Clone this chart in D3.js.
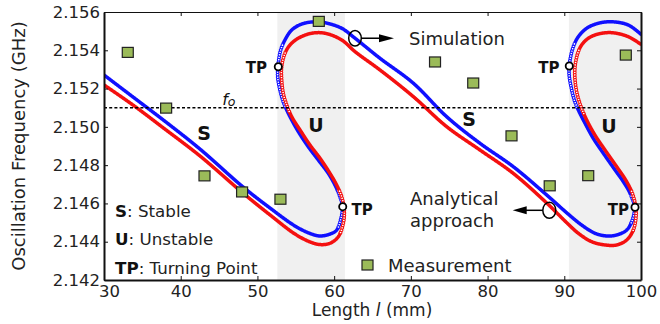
<!DOCTYPE html>
<html>
<head>
<meta charset="utf-8">
<script src="https://cdn.jsdelivr.net/npm/d3@7"></script>
<style>
  html, body { margin: 0; padding: 0; background: #fff; }
  svg { display: block; font-family: 'DejaVu Sans', sans-serif; }
</style>
</head>
<body>
<div id="chart"></div>
<script>
// measured oscillation frequency vs. line length
const measLength = [33.1, 38.1, 43.1, 48.0, 53.0, 58.0, 73.15, 78.13, 83.12, 88.1, 93.12, 98.02]
const measFreq = [2.15389, 2.15098, 2.14744, 2.1466, 2.14622, 2.15551, 2.15339, 2.15229, 2.14953, 2.14692, 2.14745, 2.15375]

// simulation (blue)
const blueLength = [30.00, 33.78, 38.08, 42.51, 48.12, 51.64, 54.90, 56.85, 58.16, 59.46, 60.33, 60.89, 61.09,
  60.76, 60.11, 59.24, 57.93, 56.63, 55.33, 54.47, 53.82, 53.37, 52.94, 52.64, 52.72, 53.03, 53.59, 54.47,
  55.77, 57.50, 58.81, 60.98, 62.72, 65.98, 70.32, 74.67, 79.01, 83.35, 87.71, 90.49, 92.27, 94.00, 95.53,
  96.83, 98.13, 98.87, 99.15, 98.57, 97.69, 96.61, 95.09, 93.78, 92.70, 91.83, 91.31, 90.88, 90.62, 90.75,
  91.18, 91.83, 92.92, 94.43, 96.18, 98.34, 100.09]
const blueFreq = [2.15271, 2.15156, 2.15025, 2.14884, 2.14686, 2.14576, 2.14482, 2.14443, 2.14430, 2.14440,
  2.14461, 2.14522, 2.14581, 2.14635, 2.14696, 2.14757, 2.14827, 2.14896, 2.14975, 2.15036, 2.15088, 2.15131,
  2.15193, 2.15262, 2.15332, 2.15401, 2.15454, 2.15506, 2.15537, 2.15549, 2.15544, 2.15515, 2.15463, 2.15358,
  2.15228, 2.15053, 2.14914, 2.14792, 2.14644, 2.14545, 2.14487, 2.14444, 2.14430, 2.14435, 2.14461, 2.14513,
  2.14581, 2.14653, 2.14714, 2.14775, 2.14862, 2.14940, 2.15019, 2.15088, 2.15140, 2.15210, 2.15280, 2.15349,
  2.15419, 2.15471, 2.15515, 2.15541, 2.15549, 2.15532, 2.15480]

// analytical approach (red)
const redLength = [30.00, 33.78, 38.08, 42.51, 48.12, 51.64, 54.90, 56.85, 58.16, 59.46, 60.54, 61.19, 61.32,
  60.98, 60.33, 59.46, 58.16, 56.85, 55.55, 54.47, 53.82, 53.37, 53.16, 53.16, 53.59, 54.25, 55.33, 57.07,
  58.81, 60.98, 62.72, 65.98, 70.32, 74.67, 79.01, 83.35, 87.71, 90.35, 91.83, 93.57, 95.31, 96.83, 98.13,
  99.00, 99.35, 99.31, 98.87, 98.01, 96.83, 95.31, 94.00, 92.92, 92.18, 91.66, 91.40, 91.40, 91.75, 92.27,
  93.14, 94.43, 96.18, 98.34, 100.09]
const redFreq = [2.15219, 2.15114, 2.14984, 2.14848, 2.14654, 2.14540, 2.14440, 2.14399, 2.14385, 2.14392,
  2.14426, 2.14496, 2.14566, 2.14635, 2.14696, 2.14757, 2.14836, 2.14905, 2.14984, 2.15053, 2.15114, 2.15175,
  2.15245, 2.15314, 2.15384, 2.15428, 2.15463, 2.15489, 2.15489, 2.15454, 2.15393, 2.15297, 2.15158, 2.15001,
  2.14879, 2.14757, 2.14602, 2.14498, 2.14444, 2.14400, 2.14383, 2.14383, 2.14409, 2.14461, 2.14531, 2.14583,
  2.14653, 2.14722, 2.14792, 2.14879, 2.14957, 2.15036, 2.15105, 2.15175, 2.15245, 2.15314, 2.15384, 2.15428,
  2.15463, 2.15485, 2.15492, 2.15471, 2.15428]

// turning points
const tpLength = [52.72, 61.12, 90.65, 99.22]
const tpFreq = [2.15314, 2.14583, 2.15318, 2.1458]

// unstable bands (shaded)
const bandStart = [52.6, 90.6]
const bandEnd = [61.4, 100]

const f0 = 2.151
const xTicks = [30, 40, 50, 60, 70, 80, 90, 100]
const yTicks = [2.142, 2.144, 2.146, 2.148, 2.150, 2.152, 2.154, 2.156]

const W = 660, H = 324
const x = d3.scaleLinear().domain([30, 100]).range([104, 641])
const y = d3.scaleLinear().domain([2.142, 2.156]).range([280, 12])

const svg = d3.select('#chart').append('svg').attr('width', W).attr('height', H)

svg.append('defs').append('clipPath').attr('id', 'plot')
  .append('rect').attr('x', 104).attr('y', 12).attr('width', 537).attr('height', 268)

// shaded unstable regions
svg.append('g').selectAll('rect')
  .data(bandStart)
  .join('rect')
  .attr('x', (d) => x(d))
  .attr('y', y(2.156))
  .attr('width', (d, i) => x(bandEnd[i]) - x(d))
  .attr('height', y(2.142) - y(2.156))
  .attr('fill', '#f0f0f0')

const plot = svg.append('g').attr('clip-path', 'url(#plot)')

// draw a curve: solid where it is flat, small circles where it runs steep (near the turning points)
function drawCurve(ls, fs, color) {
  const pts = ls.map((l, i) => [x(l), y(fs[i])])
  const d = d3.line().curve(d3.curveCatmullRom.alpha(0.5))(pts)
  const tmp = svg.append('path').attr('d', d).attr('fill', 'none')
  const node = tmp.node()
  const total = node.getTotalLength()
  const s = d3.range(0, total, 0.5).map((t) => node.getPointAtLength(t))
  tmp.remove()

  const k = 4
  const steep = s.map((p, i) => {
    const a = s[Math.max(0, i - k)], b = s[Math.min(s.length - 1, i + k)]
    return Math.abs(b.y - a.y) > 2.3 * Math.abs(b.x - a.x)
  })

  const runs = []
  let cur = null
  s.forEach((p, i) => {
    if (!cur || cur.steep !== steep[i]) {
      if (cur) cur.pts.push(p)
      cur = { steep: steep[i], pts: [] }
      runs.push(cur)
    }
    cur.pts.push(p)
  })

  const g = plot.append('g')
  runs.filter((r) => !r.steep).forEach((r) => {
    g.append('path')
      .attr('d', d3.line().x((p) => p.x).y((p) => p.y)(r.pts))
      .attr('fill', 'none')
      .attr('stroke', color)
      .attr('stroke-width', 3.5)
  })
  runs.filter((r) => r.steep).forEach((r) => {
    g.selectAll(null)
      .data(r.pts.filter((p, i) => i % 5 === 0))
      .join('circle')
      .attr('cx', (p) => p.x)
      .attr('cy', (p) => p.y)
      .attr('r', 1.4)
      .attr('fill', '#fff')
      .attr('stroke', color)
      .attr('stroke-width', 1.1)
  })
}

drawCurve(blueLength, blueFreq, '#1010ff')
drawCurve(redLength, redFreq, '#f41010')

// f0 reference line
svg.append('line')
  .attr('x1', x(30)).attr('x2', x(100))
  .attr('y1', y(f0)).attr('y2', y(f0))
  .attr('stroke', '#000')
  .attr('stroke-width', 1.5)
  .attr('stroke-dasharray', '3,2.2')

const fLabel = svg.append('text')
  .attr('x', x(45.4)).attr('y', y(f0) - 3)
  .attr('font-size', 16).attr('font-style', 'italic').attr('fill', '#111')
fLabel.append('tspan').text('f')
fLabel.append('tspan').text('o').attr('font-size', 12.5).attr('dy', 1)

// measurements
svg.append('g').selectAll('rect')
  .data(measLength)
  .join('rect')
  .attr('x', (d) => x(d) - 5.5)
  .attr('y', (d, i) => y(measFreq[i]) - 5)
  .attr('width', 11)
  .attr('height', 10)
  .attr('fill', '#9bbb59')
  .attr('stroke', '#222')
  .attr('stroke-width', 1.2)

// axes, box with inward ticks
const axisFont = (sel) => sel.selectAll('text')
  .attr('font-family', 'DejaVu Sans')
  .attr('font-size', 16.5)
  .attr('fill', '#222')

svg.append('g').attr('transform', 'translate(0,280)')
  .call(d3.axisBottom(x).tickValues(xTicks).tickSize(-4).tickSizeOuter(0).tickPadding(5.5))
  .call(axisFont)
  .call((g) => g.selectAll('.tick text').filter((d) => d === 30).attr('dx', 5))
  .call((g) => g.select('.domain').attr('stroke-width', 2))
svg.append('g').attr('transform', 'translate(104,0)')
  .call(d3.axisLeft(y).tickValues(yTicks).tickSize(-4).tickSizeOuter(0).tickPadding(4).tickFormat(d3.format('.3f')))
  .call(axisFont)
  .call((g) => g.select('.domain').attr('stroke-width', 2))
svg.append('g').attr('transform', 'translate(641,0)')
  .call(d3.axisRight(y).tickValues(yTicks).tickSize(-4).tickSizeOuter(0).tickFormat(''))
  .call((g) => g.select('.domain').attr('stroke-width', 2))
svg.append('g').attr('transform', 'translate(0,12)')
  .call(d3.axisTop(x).tickValues(xTicks).tickSize(-4).tickSizeOuter(0).tickFormat(''))
  .call((g) => g.select('.domain').attr('stroke-width', 1))

svg.selectAll('.domain, .tick line').attr('stroke', '#111')

// turning point markers
svg.append('g').selectAll('circle')
  .data(tpLength)
  .join('circle')
  .attr('cx', (d) => x(d))
  .attr('cy', (d, i) => y(tpFreq[i]))
  .attr('r', 3.6)
  .attr('fill', '#fff')
  .attr('stroke', '#000')
  .attr('stroke-width', 1.8)

// axis titles
svg.append('text')
  .attr('transform', 'translate(25,146) rotate(-90)')
  .attr('text-anchor', 'middle')
  .attr('font-size', 18)
  .attr('fill', '#222')
  .text('Oscillation Frequency (GHz)')

const xTitle = svg.append('text')
  .attr('x', 372).attr('y', 316)
  .attr('text-anchor', 'middle')
  .attr('font-size', 17)
  .attr('fill', '#222')
xTitle.append('tspan').text('Length ')
xTitle.append('tspan').text('l').attr('font-style', 'italic')
xTitle.append('tspan').text(' (mm)')

// region labels
const bold = (t, px, py, size, anchor) => svg.append('text')
  .attr('x', px).attr('y', py)
  .attr('font-size', size).attr('font-weight', 'bold')
  .attr('text-anchor', anchor || 'middle')
  .attr('fill', '#111')
  .text(t)

bold('S', 204, 140, 19)
bold('S', 469, 126, 19)
bold('U', 316, 132, 19)
bold('U', 609, 133, 19)
bold('TP', 267, 73, 15, 'end')
bold('TP', 559.5, 73, 15, 'end')
bold('TP', 351.5, 215, 15, 'start')
bold('TP', 629, 215, 15, 'end')

// legend text
const legendRows = [['S', ': Stable'], ['U', ': Unstable'], ['TP', ': Turning Point']]
legendRows.forEach((r, i) => {
  const t = svg.append('text')
    .attr('x', 115).attr('y', 217 + i * 28.3)
    .attr('font-size', 16.7).attr('fill', '#222')
  t.append('tspan').text(r[0]).attr('font-weight', 'bold').attr('fill', '#111')
  t.append('tspan').text(r[1])
})

svg.append('rect')
  .attr('x', 362).attr('y', 260).attr('width', 11).attr('height', 10)
  .attr('fill', '#9bbb59').attr('stroke', '#222').attr('stroke-width', 1.2)
svg.append('text').attr('x', 388).attr('y', 272)
  .attr('font-size', 18).attr('fill', '#222').text('Measurement')

// annotations
const simX = x(62.72), simY = y(2.15463)
svg.append('ellipse').attr('cx', simX).attr('cy', simY).attr('rx', 6.3).attr('ry', 7.8)
  .attr('fill', 'none').attr('stroke', '#000').attr('stroke-width', 1.5)
svg.append('line').attr('x1', simX + 6.3).attr('x2', 381).attr('y1', simY).attr('y2', simY)
  .attr('stroke', '#000').attr('stroke-width', 1.5)
svg.append('path').attr('d', `M379,${simY - 4}L394,${simY}L379,${simY + 4}Z`).attr('fill', '#000')
svg.append('text').attr('x', 409).attr('y', 45)
  .attr('font-size', 18).attr('fill', '#222').text('Simulation')

const anX = 549.3, anY = 210.3
svg.append('ellipse').attr('cx', anX).attr('cy', anY).attr('rx', 6.5).attr('ry', 8)
  .attr('fill', 'none').attr('stroke', '#000').attr('stroke-width', 1.5)
svg.append('line').attr('x1', anX - 6.5).attr('x2', 524).attr('y1', anY).attr('y2', anY)
  .attr('stroke', '#000').attr('stroke-width', 1.5)
svg.append('path').attr('d', `M526.7,${anY - 4}L512.7,${anY}L526.7,${anY + 4}Z`).attr('fill', '#000')
svg.append('text').attr('x', 410).attr('y', 205)
  .attr('font-size', 18).attr('fill', '#222').text('Analytical')
svg.append('text').attr('x', 410).attr('y', 227)
  .attr('font-size', 18).attr('fill', '#222').text('approach')
</script>
</body>
</html>
